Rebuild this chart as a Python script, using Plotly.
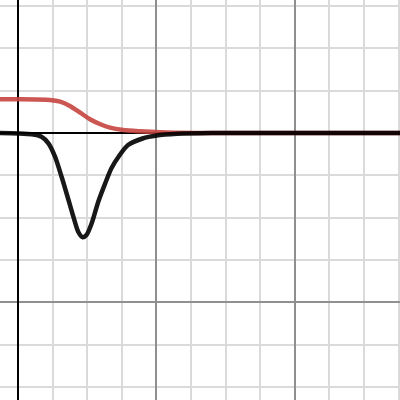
import plotly.graph_objects as go

# values (graph units: minor grid 0.5, major grid 2)
red_x = [-0.3, 0.0, 0.46, 0.61, 0.75, 0.9, 1.04, 1.19, 1.33, 1.52, 1.76, 2.05, 2.6, 5.6]
red_y = [0.398, 0.398, 0.39, 0.37, 0.319, 0.24, 0.162, 0.103, 0.063, 0.035, 0.02, 0.008, 0.0, 0.0]

black_x = [-0.3, 0.0, 0.2, 0.34, 0.44, 0.535, 0.63, 0.73, 0.8, 0.87, 0.935, 0.99,
           1.065, 1.16, 1.26, 1.35, 1.47, 1.59, 1.8, 2.0, 2.3, 2.8, 5.6]
black_y = [0.0, -0.005, -0.015, -0.044, -0.122, -0.28, -0.517, -0.792, -0.989, -1.167,
           -1.233, -1.206, -1.067, -0.812, -0.595, -0.417, -0.26, -0.142, -0.065,
           -0.03, -0.01, 0.0, 0.0]

fig = go.Figure()

fig.add_trace(go.Scatter(
    x=red_x, y=red_y,
    mode='lines',
    line=dict(color='#c74440', width=4.5, shape='spline', smoothing=0.7),
    opacity=0.9,
    hoverinfo='skip'
))
fig.add_trace(go.Scatter(
    x=black_x, y=black_y,
    mode='lines',
    line=dict(color='#000000', width=4.5, shape='spline', smoothing=0.7),
    opacity=0.9,
    hoverinfo='skip'
))

axis_style = dict(
    dtick=2,
    showgrid=True,
    gridcolor='#8f8f8f',
    gridwidth=1.5,
    minor=dict(dtick=0.5, showgrid=True, gridcolor='#dadada', gridwidth=1.5),
    zeroline=True,
    zerolinecolor='#000000',
    zerolinewidth=2.2,
    showticklabels=False,
    ticks='',
    showline=False,
    fixedrange=True
)

fig.update_layout(
    width=400,
    height=400,
    margin=dict(l=0, r=0, t=0, b=0),
    paper_bgcolor='white',
    plot_bgcolor='white',
    showlegend=False,
    xaxis=dict(range=[-0.26, 5.52], **axis_style),
    yaxis=dict(range=[-3.156, 1.572], **axis_style)
)

fig.write_html(
    "out.html",
    config={'displayModeBar': False},
    post_script="document.body.style.margin='0';document.body.style.overflow='hidden';"
)
